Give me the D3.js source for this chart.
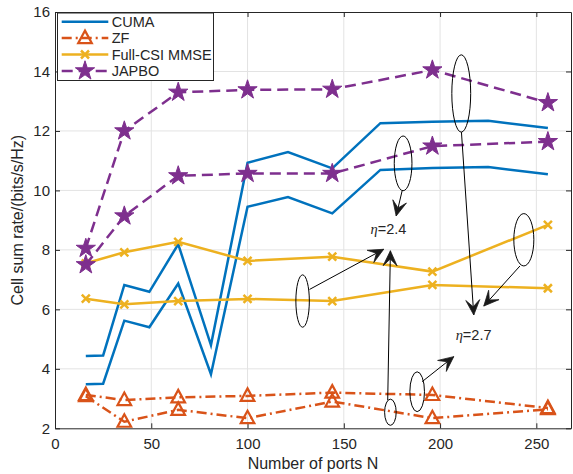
<!DOCTYPE html>
<html>
<head>
<meta charset="utf-8">
<script src="https://cdn.jsdelivr.net/npm/d3@7"></script>
<style>
  body { margin: 0; background: #fff; }
  svg { display: block; font-family: "Liberation Sans", Arial, sans-serif; }
</style>
</head>
<body>
<svg id="chart"></svg>
<script>
// data
const portsCuma = [16, 25, 36, 49, 64, 81, 100, 121, 144, 169, 196, 225, 256];
const cumaHigh  = [4.43, 4.45, 6.82, 6.59, 8.19, 4.80, 10.93, 11.29, 10.74, 12.26, 12.31, 12.34, 12.10];
const cumaLow   = [3.48, 3.50, 5.62, 5.40, 6.87, 3.82, 9.45, 9.78, 9.23, 10.69, 10.75, 10.79, 10.54];

const ports     = [16, 36, 64, 100, 144, 196, 256];
const zfHigh    = [3.12, 2.95, 3.04, 3.09, 3.20, 3.12, 2.68];
const zfLow     = [3.08, 2.22, 2.62, 2.34, 2.90, 2.34, 2.64];
const mmseHigh  = [7.55, 7.92, 8.27, 7.63, 7.77, 7.27, 8.84];
const mmseLow   = [6.36, 6.17, 6.28, 6.35, 6.28, 6.82, 6.71];
const japboHigh = [8.05, 12.00, 13.30, 13.38, 13.40, 14.05, 12.95];
const japboLow  = [7.50, 9.14, 10.49, 10.57, 10.57, 11.49, 11.64];

const xTicks = [0, 50, 100, 150, 200, 250];
const yTicks = [2, 4, 6, 8, 10, 12, 14, 16];
const legendNames = ["CUMA", "ZF", "Full-CSI MMSE", "JAPBO"];

// annotations, in data units (N, rate)
const ellipses = [
  { n: 180.8, v: 10.91, dn: 4.6, dv: 0.92 },
  { n: 211.0, v: 13.26, dn: 4.9, dv: 1.30 },
  { n: 243.5, v: 8.34,  dn: 5.2, dv: 0.88 },
  { n: 128.6, v: 6.28,  dn: 3.5, dv: 0.88 },
  { n: 174.2, v: 2.54,  dn: 3.0, dv: 0.44 },
  { n: 188.1, v: 3.23,  dn: 3.8, dv: 0.67 }
];
const arrows = [
  { n1: 180.3, v1: 9.99,  n2: 177.2, v2: 9.14 },
  { n1: 211.1, v1: 11.96, n2: 217.5, v2: 5.81 },
  { n1: 241.5, v1: 7.46,  n2: 222.7, v2: 6.11 },
  { n1: 132.2, v1: 6.67,  n2: 170.7, v2: 8.02 },
  { n1: 172.8, v1: 2.95,  n2: 174.2, v2: 7.97 },
  { n1: 190.7, v1: 3.57,  n2: 207.1, v2: 4.41 }
];
const etaLabels = [
  { n: 173.2, v: 8.53, text: "=2.4" },
  { n: 217.4, v: 4.97, text: "=2.7" }
];

const W = 573, H = 474;
const margin = { top: 12, right: 2, bottom: 45.7, left: 55 };

const colors = { cuma: "#0072BD", zf: "#D95319", mmse: "#EDB120", japbo: "#7E2F8E" };
const ink = "#262626";

const svg = d3.select("#chart").attr("width", W).attr("height", H);

const x = d3.scaleLinear().domain([0, 268]).range([margin.left, W - margin.right]);
const y = d3.scaleLinear().domain([2, 16]).range([H - margin.bottom, margin.top]);

// grid
const grid = svg.append("g").attr("stroke", "#e3e3e3").attr("stroke-width", 1);
grid.selectAll(".gx").data(xTicks.slice(1)).enter().append("line")
  .attr("x1", d => x(d)).attr("x2", d => x(d))
  .attr("y1", y(2)).attr("y2", y(16));
grid.selectAll(".gy").data(yTicks.slice(1, -1)).enter().append("line")
  .attr("x1", x(0)).attr("x2", x(268))
  .attr("y1", d => y(d)).attr("y2", d => y(d));

// axes (ticks pointing in, MATLAB style)
function styleAxis(g) {
  g.selectAll("path").attr("stroke", ink);
  g.selectAll("line").attr("stroke", ink);
  g.selectAll("text").attr("fill", ink).style("font-size", "15px");
}
svg.append("g").attr("transform", `translate(0,${y(2)})`)
  .call(d3.axisBottom(x).tickValues(xTicks).tickSizeInner(-5).tickSizeOuter(0).tickPadding(10))
  .call(styleAxis);
svg.append("g").attr("transform", `translate(0,${y(16)})`)
  .call(d3.axisTop(x).tickValues(xTicks).tickSizeInner(-5).tickSizeOuter(0).tickFormat(""))
  .call(styleAxis);
svg.append("g").attr("transform", `translate(${x(0)},0)`)
  .call(d3.axisLeft(y).tickValues(yTicks).tickSizeInner(-5).tickSizeOuter(0).tickPadding(5))
  .call(styleAxis);
svg.append("g").attr("transform", `translate(${x(268)},0)`)
  .call(d3.axisRight(y).tickValues(yTicks).tickSizeInner(-5).tickSizeOuter(0).tickFormat(""))
  .call(styleAxis);

// axis labels
svg.append("text")
  .attr("x", (x(0) + x(268)) / 2).attr("y", 469)
  .attr("text-anchor", "middle").attr("fill", ink).style("font-size", "16px")
  .text("Number of ports N");
svg.append("text")
  .attr("transform", `translate(23,${(y(2) + y(16)) / 2}) rotate(-90)`)
  .attr("text-anchor", "middle").attr("fill", ink).style("font-size", "16px")
  .text("Cell sum rate/(bits/s/Hz)");

// marker shapes
const triPath = "M0,-7.5L6.8,5L-6.8,5Z";
const xPath = "M-4,-4L4,4M-4,4L4,-4";
const starPath = d3.symbol(d3.symbolStar, 115)();

function drawSeries(xs, ys, opt) {
  const pts = xs.map((n, i) => ({ n, v: ys[i] }));
  const line = d3.line().x(d => x(d.n)).y(d => y(d.v));
  svg.append("path").datum(pts)
    .attr("fill", "none").attr("stroke", opt.color).attr("stroke-width", 2.5)
    .attr("stroke-dasharray", opt.dash || null)
    .attr("stroke-linejoin", "miter")
    .attr("d", line);
  if (!opt.marker) return;
  svg.append("g").selectAll("path").data(pts).enter().append("path")
    .attr("transform", d => `translate(${x(d.n)},${y(d.v)})`)
    .attr("d", opt.marker)
    .attr("fill", opt.fill)
    .attr("stroke", opt.color)
    .attr("stroke-width", opt.mw);
}

const styles = [
  { color: colors.cuma },
  { color: colors.zf, dash: "10,4,2,4", marker: triPath, fill: "none", mw: 2.2 },
  { color: colors.mmse, marker: xPath, fill: "none", mw: 2.5 },
  { color: colors.japbo, dash: "11,6", marker: starPath, fill: colors.japbo, mw: 1 }
];

drawSeries(portsCuma, cumaHigh, styles[0]);
drawSeries(portsCuma, cumaLow, styles[0]);
drawSeries(ports, zfHigh, styles[1]);
drawSeries(ports, zfLow, styles[1]);
drawSeries(ports, mmseHigh, styles[2]);
drawSeries(ports, mmseLow, styles[2]);
drawSeries(ports, japboHigh, styles[3]);
drawSeries(ports, japboLow, styles[3]);

// annotations
const ann = svg.append("g").attr("fill", "none").attr("stroke", "#000").attr("stroke-width", 1);
ann.selectAll("ellipse").data(ellipses).enter().append("ellipse")
  .attr("cx", d => x(d.n)).attr("cy", d => y(d.v))
  .attr("rx", d => x(d.n + d.dn) - x(d.n))
  .attr("ry", d => y(d.v - d.dv) - y(d.v));

function headPath(d) {
  const x1 = x(d.n1), y1 = y(d.v1), x2 = x(d.n2), y2 = y(d.v2);
  const a = Math.atan2(y2 - y1, x2 - x1);
  const L = 15, w = 7, notch = 0.55 * L;
  const c = Math.cos(a), s = Math.sin(a);
  const p = (u, v) => [x2 + u * c - v * s, y2 + u * s + v * c];
  return "M" + [p(0, 0), p(-L, w), p(-notch, 0), p(-L, -w)].map(q => q.join(",")).join("L") + "Z";
}
ann.selectAll("line").data(arrows).enter().append("line")
  .attr("x1", d => x(d.n1)).attr("y1", d => y(d.v1))
  .attr("x2", d => x(d.n2)).attr("y2", d => y(d.v2));
svg.append("g").selectAll("path").data(arrows).enter().append("path")
  .attr("d", headPath).attr("fill", "#1a1a1a").attr("stroke", "#1a1a1a").attr("stroke-width", 0.8);

const eta = svg.append("g").selectAll("text").data(etaLabels).enter().append("text")
  .attr("x", d => x(d.n)).attr("y", d => y(d.v))
  .attr("text-anchor", "middle").attr("fill", ink).style("font-size", "14.5px");
eta.append("tspan").style("font-family", "'Liberation Serif', 'Times New Roman', serif")
  .style("font-style", "italic").text("\u03B7");
eta.append("tspan").text(d => d.text);

// legend
const lg = svg.append("g");
lg.append("rect")
  .attr("x", 57.5).attr("y", 13).attr("width", 156).attr("height", 67.5)
  .attr("fill", "#fff").attr("stroke", ink).attr("stroke-width", 1);
const rows = lg.selectAll("g.row").data(legendNames).enter().append("g")
  .attr("transform", (d, i) => `translate(0,${21.7 + i * 16.4})`);
rows.append("line")
  .attr("x1", 61.7).attr("x2", 108.3)
  .attr("stroke", (d, i) => styles[i].color).attr("stroke-width", 2.5)
  .attr("stroke-dasharray", (d, i) => styles[i].dash || null);
rows.filter((d, i) => styles[i].marker).append("path")
  .attr("transform", "translate(85,0)")
  .attr("d", d => styles[legendNames.indexOf(d)].marker)
  .attr("fill", d => styles[legendNames.indexOf(d)].fill)
  .attr("stroke", d => styles[legendNames.indexOf(d)].color)
  .attr("stroke-width", d => styles[legendNames.indexOf(d)].mw);
rows.append("text")
  .attr("x", 111.7).attr("dy", "0.36em")
  .attr("fill", ink).style("font-size", "14.5px")
  .text(d => d);
</script>
</body>
</html>
